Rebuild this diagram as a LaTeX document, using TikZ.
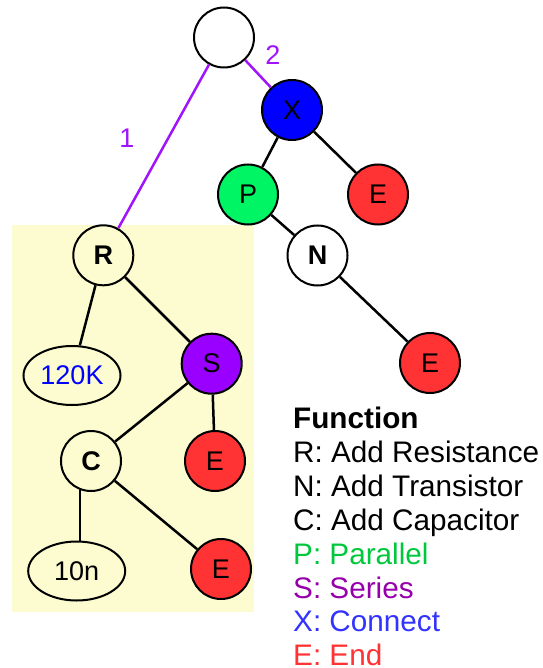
\documentclass[tikz,border=0pt]{standalone}
\usepackage{fontspec}
\setmainfont{Liberation Sans}
\usetikzlibrary{shapes.geometric}
\definecolor{bgyellow}{RGB}{252,252,208}
\definecolor{genepurple}{RGB}{160,20,250}
\definecolor{endred}{RGB}{255,51,51}
\definecolor{parallelgreen}{RGB}{0,245,100}
\definecolor{seriespurple}{RGB}{153,0,255}
\definecolor{connectblue}{RGB}{0,0,255}
\definecolor{txtgreen}{RGB}{0,200,60}
\definecolor{txtpurple}{RGB}{150,0,170}
\definecolor{txtblue}{RGB}{51,51,255}
\definecolor{txtred}{RGB}{255,51,51}
\begin{document}
\begin{tikzpicture}[x=1pt,y=-1pt,
  vertex/.style={circle, draw=black, line width=2pt, minimum size=60pt,
    inner sep=0pt, font=\fontsize{27}{27}\selectfont},
  leaf/.style={ellipse, draw=black, line width=2pt, minimum width=97pt,
    minimum height=59pt, inner sep=0pt, fill=bgyellow,
    font=\fontsize{27}{27}\selectfont},
  link/.style={line width=2.5pt, draw=black},
  genelink/.style={line width=2.5pt, draw=genepurple},
  genelabel/.style={text=genepurple, font=\fontsize{27}{27}\selectfont, inner sep=0pt},
  legend/.style={anchor=base west, inner sep=0pt, font=\fontsize{29.7}{29.7}\selectfont}]
\useasboundingbox (0,0) rectangle (542,668);

% shaded subtree region
\fill[bgyellow] (12,225) rectangle (254,612);

% tree nodes
\node[vertex, fill=white] (root) at (224,37.5) {};
\node[vertex, fill=connectblue] (X) at (292,110) {X};
\node[vertex, fill=parallelgreen] (P) at (248,194.5) {P};
\node[vertex, fill=endred] (E1) at (378,194.5) {E};
\node[vertex, fill=white, font=\fontsize{27}{27}\selectfont\bfseries] (N) at (317.5,255.5) {N};
\node[vertex, fill=endred] (E2) at (430,363) {E};
\node[vertex, fill=bgyellow, font=\fontsize{27}{27}\selectfont\bfseries] (R) at (103.3,255.3) {R};
\node[leaf, text=connectblue] (k120) at (72,375.5) {120K};
\node[vertex, fill=seriespurple] (S) at (211.7,363.7) {S};
\node[vertex, fill=bgyellow, font=\fontsize{27}{27}\selectfont\bfseries] (C) at (91,461) {C};
\node[vertex, fill=endred] (E3) at (215,461) {E};
\node[leaf] (n10) at (76.7,571) {10n};
\node[vertex, fill=endred] (E4) at (221,569) {E};

% gene connections from the root
\draw[genelink] (root) -- (R);
\draw[genelink] (root) -- (X);
\node[genelabel] (lab1) at (127,138) {1};
\node[genelabel] (lab2) at (273,55) {2};

% tree edges
\draw[link] (X) -- (P);
\draw[link] (X) -- (E1);
\draw[link] (P) -- (N);
\draw[link] (N) -- (E2);
\draw[link] (R) -- (k120);
\draw[link] (R) -- (S);
\draw[link] (S) -- (C);
\draw[link] (S) -- (E3);
\draw[link] (C) -- (E4);
\draw[link] (C.249) -- (C.249 |- n10.north);

% legend
\node[legend, font=\fontsize{29.7}{29.7}\selectfont\bfseries] (lg0) at (293,428) {Function};
\node[legend] (lg1) at (293,462.5) {R: Add Resistance};
\node[legend] (lg2) at (293,496.5) {N: Add Transistor};
\node[legend] (lg3) at (293,530.5) {C: Add Capacitor};
\node[legend, text=txtgreen] (lg4) at (293,564) {P: Parallel};
\node[legend, text=txtpurple] (lg5) at (293,598) {S: Series};
\node[legend, text=txtblue] (lg6) at (293,631.5) {X: Connect};
\node[legend, text=txtred] (lg7) at (293,665) {E: End};
\end{tikzpicture}
\end{document}
